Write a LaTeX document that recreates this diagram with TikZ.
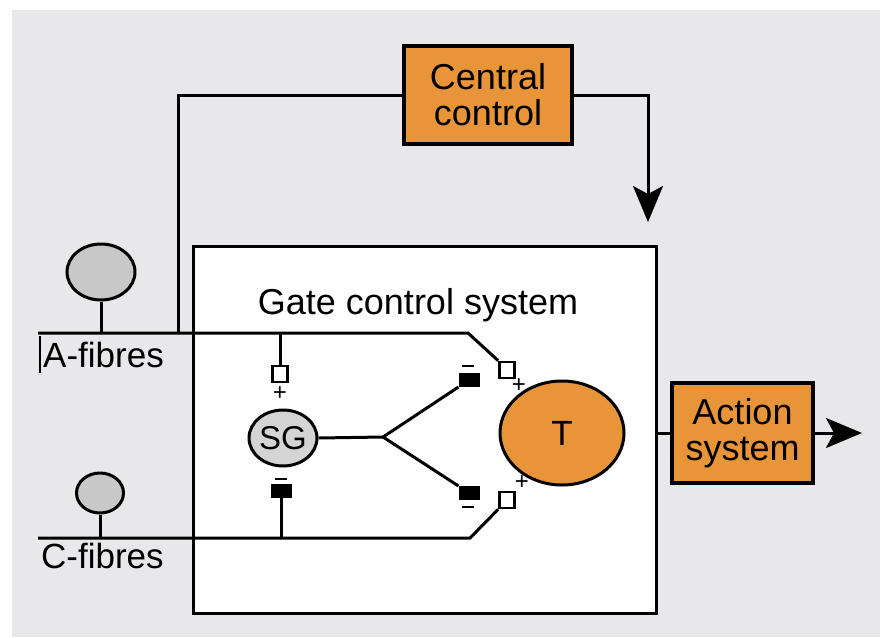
\documentclass[tikz,border=0pt]{standalone}
\usepackage{fontspec}
\setmainfont{Liberation Sans}
\usetikzlibrary{arrows.meta,shapes.geometric}
\definecolor{bggray}{HTML}{E8E8EA}
\definecolor{orng}{HTML}{E8953A}
\definecolor{cellgray}{HTML}{C8C8C8}
\definecolor{sggray}{HTML}{D4D4D4}
\tikzset{
  wire/.style={line width=3pt},
  obox/.style={draw, line width=3.2pt, fill=orng, align=center, inner sep=0pt,
    font=\fontsize{36}{36}\selectfont},
  cell/.style={ellipse, draw, line width=3pt, fill=cellgray, inner sep=0pt},
  opensq/.style={draw, line width=2.6pt, fill=white, inner sep=0pt, minimum width=15pt, minimum height=16pt},
  fillsq/.style={draw, line width=1pt, fill=black, inner sep=0pt, minimum width=20pt, minimum height=13pt},
  minussign/.style={fill=black, inner sep=0pt, minimum width=12pt, minimum height=2.8pt},
  plussign/.style={inner sep=0pt, font=\fontsize{24}{24}\selectfont},
  lbl/.style={inner sep=0pt, font=\fontsize{35}{35}\selectfont},
}
\begin{document}
\begin{tikzpicture}[x=1pt,y=-1pt]
\useasboundingbox (0,0) rectangle (883,637);
\fill[white] (0,0) rectangle (883,637);
\fill[bggray] (12,10) rectangle (880,637);

% main gate box
\node[draw, fill=white, line width=3.2pt, minimum width=463pt, minimum height=367pt, anchor=north west, inner sep=0pt] (gate) at (192,245) {};
\node[lbl, font=\fontsize{36}{36}\selectfont] (gatetitle) at (418,305) {Gate control system};

% boxes
\node[obox, minimum width=168pt, minimum height=98pt] (cc) at (488,95) {Central\\control};
\node[obox, minimum width=141pt, minimum height=100pt] (act) at (742.5,433) {Action\\system};

% neurons
\node[cell, minimum width=68pt, minimum height=56pt] (acell) at (101,272) {};
\node[cell, minimum width=47pt, minimum height=40pt] (ccell) at (100,493) {};
\coordinate (aL) at (38,333);
\coordinate (cL) at (38,538);
\coordinate (aS) at (101,333);
\coordinate (cS) at (100,538);
\draw[wire] (acell.south) -- (aS);
\draw[wire] (ccell.south) -- (cS);
\node[lbl, anchor=base west] (alab) at (43,367) {A-fibres};
\node[lbl, anchor=base west] (clab) at (41,568) {C-fibres};
\coordinate (tickT) at (40,336);
\coordinate (tickB) at (40,373);
\draw[line width=2pt] (tickT) -- (tickB);

% SG and T
\node[ellipse, draw, line width=3pt, fill=sggray, minimum width=68pt, minimum height=56pt, inner sep=0pt, font=\fontsize{33}{33}\selectfont] (sg) at (283,438) {SG};
\node[ellipse, draw, line width=3pt, fill=orng, minimum width=124pt, minimum height=104pt, inner sep=0pt, font=\fontsize{35}{35}\selectfont] (t) at (562,433) {T};

% synapse squares
\node[opensq] (sq1) at (280,374) {};
\node[plussign] (p1) at (280,394) {+};
\node[minussign] (m2) at (281,479) {};
\node[fillsq] (sq2) at (281,491) {};
\node[opensq] (sqA) at (507,370) {};
\node[plussign] (pA) at (519,386) {+};
\node[opensq] (sqC) at (507,500) {};
\node[plussign] (pC) at (522,483) {+};
\node[fillsq] (sq3) at (469,380) {};
\node[minussign] (m3) at (468,366) {};
\node[fillsq] (sq4) at (469,493) {};
\node[minussign] (m4) at (468,507) {};

% A-fibre line
\coordinate (aK) at (468,333);
\coordinate (j1) at (280,333);
\coordinate (aJ) at (178,333);
\draw[wire] (aL) -- (aK) -- (sqA.north west);
\draw[wire] (j1) -- (sq1.north);
% C-fibre line
\coordinate (cK) at (470,538);
\coordinate (j2) at (281,538);
\draw[wire] (cL) -- (cK) -- (sqC.south west);
\draw[wire] (sq2.south) -- (j2);

% SG fork
\coordinate (fork) at (383,437);
\draw[wire] (sg.east) -- (fork);
\draw[wire] (fork) -- (sq3.south west);
\draw[wire] (fork) -- (sq4.north west);

% central control loop
\coordinate (ccL) at (178,95);
\coordinate (tip) at (648,222);
\draw[wire] (cc.west) -- (ccL) -- (aJ);
\draw[wire, -{Stealth[length=36pt, width=30pt, inset=8pt]}] (cc.east) -| (tip);

% output
\coordinate (outTip) at (862,433);
\draw[wire] (gate.east |- t) -- (act.west);
\draw[wire, -{Stealth[length=36pt, width=30pt, inset=8pt]}] (act.east) -- (outTip);
\end{tikzpicture}
\end{document}
